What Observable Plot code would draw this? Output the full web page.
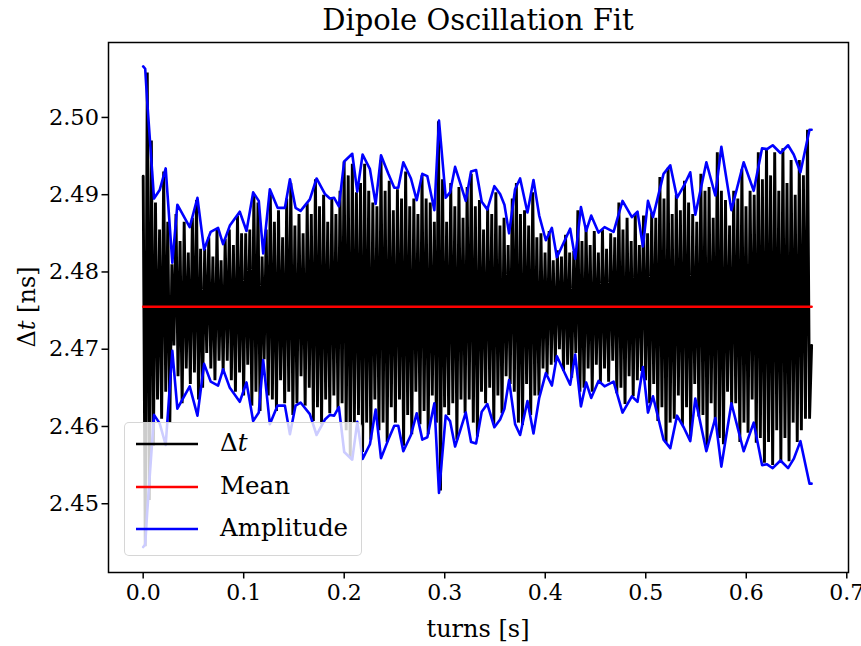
<!DOCTYPE html>
<html>
<head>
<meta charset="utf-8">
<script src="https://cdn.jsdelivr.net/npm/d3@7"></script>
<script src="https://cdn.jsdelivr.net/npm/@observablehq/plot@0.6"></script>
<style>
  body { margin: 0; background: #fff; overflow: hidden; }
  #wrap { position: relative; width: 861px; height: 646px; font-family: "DejaVu Serif", serif; }
  #legend { position: absolute; left: 124px; top: 422px; width: 238px; height: 134px;
            background: rgba(255,255,255,0.8); border: 1px solid rgba(204,204,204,0.8);
            border-radius: 5px; box-sizing: border-box; }
  .row { position: absolute; left: 0; height: 0; }
  .row svg { position: absolute; left: 10px; top: -2px; }
  .row span { position: absolute; left: 95px; top: 0; transform: translateY(-52%);
              font-size: 24.5px; white-space: nowrap; color: #000; line-height: 1; }
</style>
</head>
<body>
<div id="wrap"></div>
<script>
// ---------------- data ----------------
const meanDt = 2.4755;            // mean Δt [ns]
const dtStart = 0, dtEnd = 0.665; // first / last turn time [s]

// measured Δt [ns], one value per half oscillation, evenly spaced from dtStart to dtEnd
const dtValues = [
2.4924,2.4445,2.5058,2.4505,2.4970,2.4575,2.4890,2.4635,2.4855,2.4610,
2.4930,2.4645,2.4865,2.4605,2.4810,2.4705,2.4875,2.4665,2.4840,2.4630,
2.4865,2.4675,2.4825,2.4655,2.4870,2.4670,2.4893,2.4635,2.4830,2.4650,
2.4830,2.4695,2.4845,2.4675,2.4820,2.4660,2.4855,2.4685,2.4815,2.4670,
2.4843,2.4685,2.4855,2.4660,2.4835,2.4645,2.4873,2.4670,2.4850,2.4640,
2.4850,2.4680,2.4855,2.4627,2.4900,2.4645,2.4890,2.4620,2.4820,2.4687,
2.4855,2.4640,2.4903,2.4635,2.4865,2.4620,2.4880,2.4660,2.4845,2.4630,
2.4895,2.4645,2.4915,2.4615,2.4860,2.4630,2.4875,2.4665,2.4850,2.4627,
2.4889,2.4650,2.4875,2.4607,2.4920,2.4625,2.4885,2.4603,2.4900,2.4635,
2.4865,2.4617,2.4895,2.4640,2.4875,2.4623,2.4905,2.4630,2.4943,2.4595,
2.4925,2.4560,2.4940,2.4605,2.4903,2.4615,2.4915,2.4567,2.4940,2.4605,
2.4905,2.4583,2.4890,2.4635,2.4885,2.4595,2.4945,2.4605,2.4905,2.4580,
2.4918,2.4625,2.4880,2.4605,2.4907,2.4635,2.4895,2.4575,2.4930,2.4615,
2.4885,2.4590,2.4895,2.4645,2.4875,2.4603,2.4925,2.4620,2.4895,2.4590,
2.4890,2.4640,2.4865,2.4605,2.4995,2.4517,2.4920,2.4625,2.4865,2.4615,
2.4915,2.4630,2.4885,2.4583,2.4910,2.4635,2.4870,2.4617,2.4910,2.4635,
2.4927,2.4605,2.4885,2.4587,2.4893,2.4645,2.4855,2.4630,2.4885,2.4650,
2.4875,2.4603,2.4903,2.4640,2.4860,2.4617,2.4870,2.4665,2.4835,2.4655,
2.4895,2.4645,2.4915,2.4605,2.4875,2.4602,2.4880,2.4655,2.4860,2.4615,
2.4903,2.4640,2.4845,2.4640,2.4850,2.4675,2.4825,2.4667,2.4853,2.4680,
2.4815,2.4683,2.4828,2.4700,2.4820,2.4672,2.4848,2.4680,2.4825,2.4663,
2.4827,2.4695,2.4880,2.4645,2.4840,2.4650,2.4860,2.4675,2.4835,2.4645,
2.4853,2.4680,2.4825,2.4657,2.4855,2.4675,2.4830,2.4658,2.4850,2.4685,
2.4845,2.4643,2.4890,2.4650,2.4855,2.4629,2.4870,2.4665,2.4840,2.4639,
2.4875,2.4660,2.4835,2.4672,2.4873,2.4660,2.4850,2.4630,2.4877,2.4655,
2.4870,2.4607,2.4923,2.4625,2.4895,2.4579,2.4935,2.4605,2.4875,2.4610,
2.4900,2.4640,2.4880,2.4602,2.4918,2.4625,2.4890,2.4587,2.4875,2.4655,
2.4865,2.4613,2.4927,2.4615,2.4905,2.4575,2.4910,2.4630,2.4870,2.4607,
2.4955,2.4585,2.4905,2.4577,2.4893,2.4645,2.4860,2.4622,2.4905,2.4630,
2.4895,2.4580,2.4933,2.4605,2.4885,2.4592,2.4905,2.4635,2.4900,2.4579,
2.4955,2.4585,2.4920,2.4553,2.4960,2.4580,2.4925,2.4550,2.4955,2.4595,
2.4905,2.4555,2.4960,2.4585,2.4915,2.4555,2.4945,2.4605,2.4900,2.4580,
2.4945,2.4595,2.4925,2.4610,2.4984,2.4610,2.4705
];

// fitted amplitude envelope: times [s] and amplitude [ns]
const ampTimes = [
0,0.002,0.004,0.0108,0.0164,0.0224,0.029,0.034,0.0463,0.054,
0.0606,0.0672,0.0745,0.0795,0.0862,0.0961,0.1028,0.1094,0.115,0.1194,
0.126,0.1337,0.141,0.146,0.1516,0.1566,0.1658,0.1725,0.1808,0.1858,
0.19,0.1947,0.2,0.208,0.213,0.2183,0.2256,0.2313,0.2366,0.2439,
0.2498,0.2538,0.2588,0.2664,0.2721,0.2777,0.2827,0.2897,0.2943,0.301,
0.3053,0.3103,0.3152,0.3209,0.3262,0.3312,0.3368,0.3424,0.3494,0.3551,
0.3594,0.364,0.37,0.375,0.3823,0.3883,0.394,0.4006,0.4066,0.4116,
0.4248,0.4298,0.4355,0.4407,0.4457,0.453,0.459,0.468,0.4769,0.4862,
0.4918,0.4972,0.5022,0.5072,0.5177,0.5244,0.5311,0.5377,0.5443,0.5493,
0.5603,0.5692,0.5752,0.5852,0.5974,0.6074,0.6157,0.6207,0.6263,0.634,
0.6416,0.6472,0.6539,0.6629,0.665
];
const ampValues = [
0.0311,0.0308,0.0266,0.0140,0.0151,0.0179,0.0057,0.0132,0.0103,0.0141,
0.0074,0.0097,0.0102,0.0081,0.0105,0.0123,0.0098,0.0148,0.0137,0.0069,
0.0152,0.0128,0.0128,0.0165,0.0128,0.0124,0.0139,0.0166,0.0146,0.0140,
0.0141,0.0130,0.0188,0.0198,0.0149,0.0197,0.0178,0.0133,0.0196,0.0172,
0.0154,0.0154,0.0187,0.0166,0.0138,0.0172,0.0169,0.0125,0.0241,0.0141,
0.0148,0.0181,0.0161,0.0137,0.0175,0.0177,0.0136,0.0126,0.0156,0.0146,
0.0132,0.0095,0.0152,0.0166,0.0122,0.0164,0.0118,0.0086,0.0102,0.0064,
0.0101,0.0062,0.0129,0.0098,0.0118,0.0096,0.0103,0.0097,0.0137,0.0116,
0.0123,0.0078,0.0137,0.0116,0.0172,0.0183,0.0141,0.0156,0.0174,0.0119,
0.0187,0.0144,0.0207,0.0125,0.0187,0.0150,0.0205,0.0204,0.0209,0.0199,
0.0209,0.0197,0.0174,0.0229,0.0229
];

const xTicks = [0.0, 0.1, 0.2, 0.3, 0.4, 0.5, 0.6, 0.7];
const yTicks = [2.45, 2.46, 2.47, 2.48, 2.49, 2.50];
const titleText = "Dipole Oscillation Fit";
const xLabelText = "turns [s]";
const legendLabels = ["Δt", "Mean", "Amplitude"];
const seriesColors = ["#000000", "#ff0000", "#0000ff"];

// ---------------- build tables ----------------
const step = (dtEnd - dtStart) / (dtValues.length - 1);
const dtSeries = dtValues.map((v, i) => ({t: dtStart + i * step, v}));
const envelope = ampTimes.map((t, i) => ({t, a: ampValues[i]}));

const FONT = '"DejaVu Serif", serif';
const chart = Plot.plot({
  width: 861, height: 646,
  marginLeft: 108, marginRight: 13, marginTop: 42, marginBottom: 74,
  style: {fontFamily: FONT, fontSize: "22px", color: "#000", background: "#fff", overflow: "visible"},
  x: {domain: [-0.0345, 0.7017]},
  y: {domain: [2.4411, 2.5097]},
  marks: [
    Plot.line(dtSeries, {x: "t", y: "v", stroke: seriesColors[0], strokeWidth: 2.9, strokeLinejoin: "miter", strokeMiterlimit: 4}),
    Plot.line(envelope, {x: "t", y: () => meanDt, stroke: seriesColors[1], strokeWidth: 2.6}),
    Plot.line(envelope, {x: "t", y: d => meanDt + d.a, stroke: seriesColors[2], strokeWidth: 2.6}),
    Plot.line(envelope, {x: "t", y: d => meanDt - d.a, stroke: seriesColors[2], strokeWidth: 2.6}),
    Plot.frame({stroke: "#000", strokeWidth: 1.5}),
    Plot.axisX({ticks: xTicks, tickFormat: d => d.toFixed(1), tickSize: 6.5, tickPadding: 5,
                strokeWidth: 1.5, label: null, fontSize: 22}),
    Plot.axisY({ticks: yTicks, tickFormat: d => d.toFixed(2), tickSize: 6.5, tickPadding: 3,
                strokeWidth: 1.5, label: null, fontSize: 22.5})
  ]
});

const svg = d3.select(chart);
svg.append("text").attr("x", 478).attr("y", 30).attr("text-anchor", "middle")
  .attr("font-family", FONT).attr("font-size", 29).attr("fill", "#000").text(titleText);
svg.append("text").attr("x", 478).attr("y", 637).attr("text-anchor", "middle")
  .attr("font-family", FONT).attr("font-size", 24).attr("fill", "#000").text(xLabelText);
const yl = svg.append("text").attr("transform", "translate(35,307) rotate(-90)")
  .attr("text-anchor", "middle").attr("font-family", FONT).attr("font-size", 24).attr("fill", "#000");
yl.append("tspan").text("Δ");
yl.append("tspan").attr("font-style", "italic").text("t");
yl.append("tspan").text(" [ns]");

const wrap = document.getElementById("wrap");
wrap.appendChild(chart);

// legend (HTML overlay, semi-transparent like the original)
const legend = document.createElement("div");
legend.id = "legend";
const rowTops = [21, 64, 106];
legendLabels.forEach((lab, i) => {
  const row = document.createElement("div");
  row.className = "row";
  row.style.top = rowTops[i] + "px";
  row.innerHTML = `<svg width="64" height="4"><line x1="1" y1="2" x2="63" y2="2" stroke="${seriesColors[i]}" stroke-width="2.6"/></svg>`;
  const span = document.createElement("span");
  if (lab === "Δt") span.innerHTML = "Δ<i>t</i>";
  else span.textContent = lab;
  row.appendChild(span);
  legend.appendChild(row);
});
wrap.appendChild(legend);
</script>
</body>
</html>
